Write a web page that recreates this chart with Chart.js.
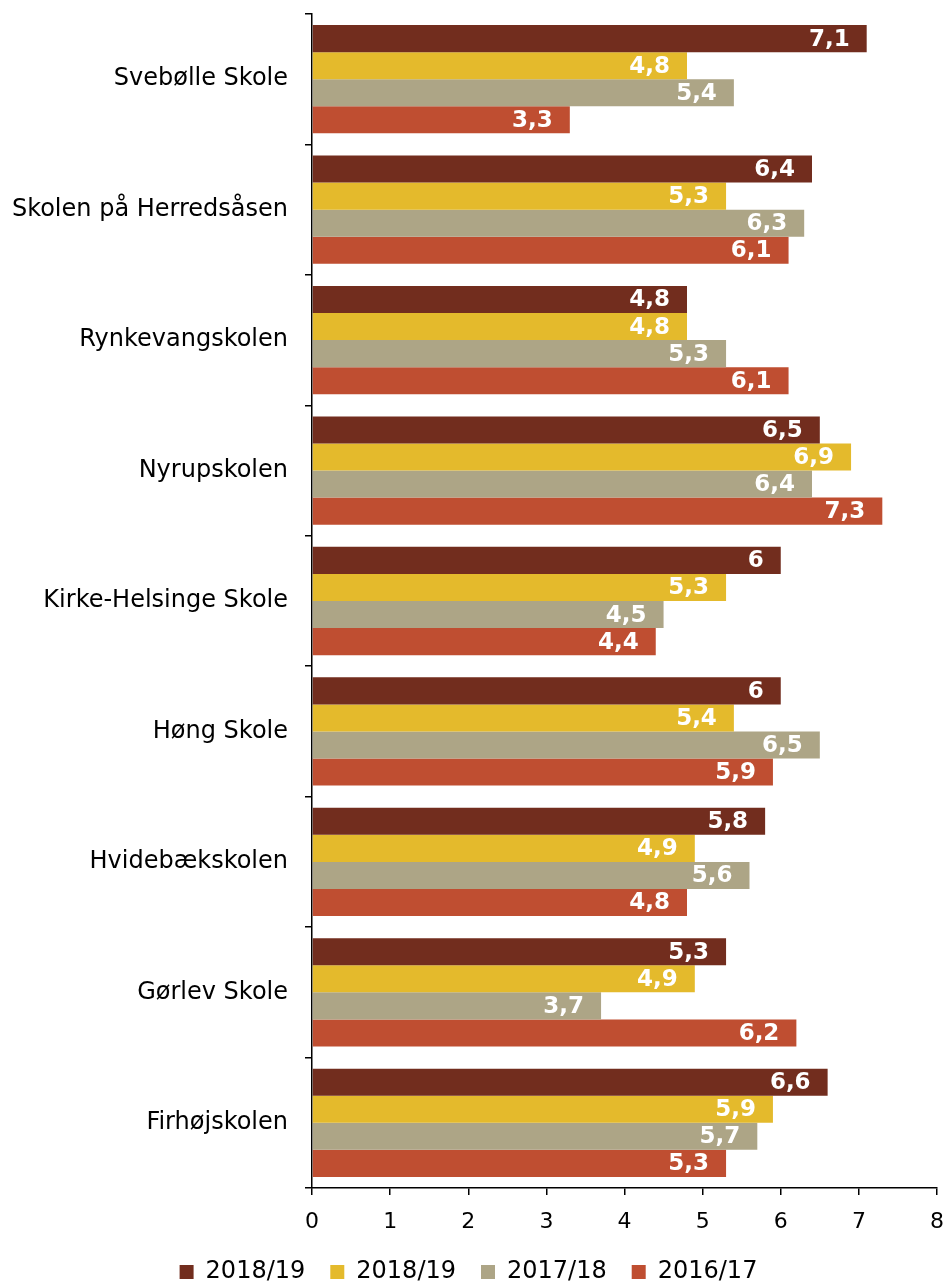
<!DOCTYPE html>
<html>
<head>
<meta charset="utf-8">
<script src="https://cdn.jsdelivr.net/npm/chart.js@4"></script>
<style>
  html, body { margin: 0; padding: 0; background: #fff; }
  #wrap { width: 949px; height: 1285px; position: relative; }
</style>
</head>
<body>
<div id="wrap"><canvas id="chart"></canvas></div>
<script>
/* ================= DATA ================= */
const schools = [
  "Svebølle Skole", "Skolen på Herredsåsen", "Rynkevangskolen", "Nyrupskolen",
  "Kirke-Helsinge Skole", "Høng Skole", "Hvidebækskolen", "Gørlev Skole", "Firhøjskolen"
];
const seriesNames = ["2018/19", "2018/19", "2017/18", "2016/17"];
const vals1819a = [7.1, 6.4, 4.8, 6.5, 6.0, 6.0, 5.8, 5.3, 6.6];
const vals1819b = [4.8, 5.3, 4.8, 6.9, 5.3, 5.4, 4.9, 4.9, 5.9];
const vals1718  = [5.4, 6.3, 5.3, 6.4, 4.5, 6.5, 5.6, 3.7, 5.7];
const vals1617  = [3.3, 6.1, 6.1, 7.3, 4.4, 5.9, 4.8, 6.2, 5.3];
const xTicks = [0, 1, 2, 3, 4, 5, 6, 7, 8];

const colors = ["#722D1E", "#E4BA2C", "#ADA586", "#BF4E31"];
const FONT = "'DejaVu Sans', Verdana, sans-serif";

/* ================= LABEL PLUGIN ================= */
const barLabels = {
  id: "barLabels",
  afterDatasetsDraw(chart) {
    const ctx = chart.ctx;
    ctx.save();
    ctx.font = "bold 23px " + FONT;
    ctx.fillStyle = "#fff";
    ctx.textAlign = "right";
    ctx.textBaseline = "middle";
    chart.data.datasets.forEach((ds, i) => {
      chart.getDatasetMeta(i).data.forEach((bar, j) => {
        const txt = String(ds.data[j]).replace(".", ",");
        ctx.fillText(txt, bar.x - 17, bar.y + 1);
      });
    });
    ctx.restore();
  }
};

/* ================= CHART ================= */
Chart.defaults.font.family = FONT;
Chart.defaults.font.size = 22;
Chart.defaults.color = "#000";

new Chart(document.getElementById("chart"), {
  type: "bar",
  data: {
    labels: schools,
    datasets: [vals1819a, vals1819b, vals1718, vals1617].map((d, i) => ({
      label: seriesNames[i],
      data: d,
      backgroundColor: colors[i],
      borderWidth: 0,
      categoryPercentage: 0.83,
      barPercentage: 1.0
    }))
  },
  plugins: [barLabels],
  options: {
    indexAxis: "y",
    responsive: true,
    maintainAspectRatio: false,
    animation: false,
    layout: { padding: { top: 14, right: 12, left: 0, bottom: -9 } },
    plugins: {
      tooltip: { enabled: false },
      legend: {
        position: "bottom",
        labels: {
          boxWidth: 14,
          boxHeight: 14,
          padding: 25,
          font: { size: 24 },
          color: "#000"
        }
      }
    },
    scales: {
      x: {
        min: 0,
        max: 8,
        afterBuildTicks: s => { s.ticks = xTicks.map(v => ({ value: v })); },
        afterFit: s => { s.height = 47; s.paddingLeft = 0; s.paddingRight = 0; },
        border: { color: "#000", width: 1.5 },
        grid: { drawOnChartArea: false, tickLength: 7, color: "#000", lineWidth: 1.5 },
        ticks: { padding: 14, font: { size: 22 }, color: "#000" }
      },
      y: {
        afterFit: s => { s.width = 312; s.paddingTop = 0; s.paddingBottom = 0; },
        border: { color: "#000", width: 1.5 },
        grid: { offset: true, drawOnChartArea: false, tickLength: 7, color: "#000", lineWidth: 1.5 },
        ticks: { padding: 17, font: { size: 24 }, color: "#000" }
      }
    }
  }
});
</script>
</body>
</html>
